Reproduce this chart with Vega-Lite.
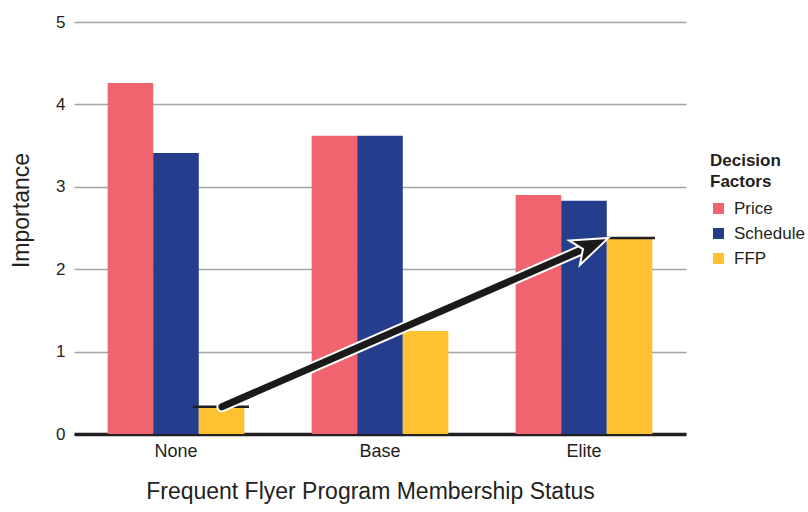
{
  "$schema": "https://vega.github.io/schema/vega-lite/v6.json",
  "width": 612,
  "height": 412,
  "autosize": "none",
  "padding": {"left": 74, "top": 22, "right": 122, "bottom": 78},
  "background": "white",
  "config": {
    "view": {"stroke": null},
    "font": "Liberation Sans"
  },
  "datasets": {
    "bars": [
      {"status": "None", "factor": "Price", "importance": 4.26},
      {"status": "None", "factor": "Schedule", "importance": 3.41},
      {"status": "None", "factor": "FFP", "importance": 0.33},
      {"status": "Base", "factor": "Price", "importance": 3.62},
      {"status": "Base", "factor": "Schedule", "importance": 3.62},
      {"status": "Base", "factor": "FFP", "importance": 1.25},
      {"status": "Elite", "factor": "Price", "importance": 2.9},
      {"status": "Elite", "factor": "Schedule", "importance": 2.83},
      {"status": "Elite", "factor": "FFP", "importance": 2.38}
    ],
    "arrow": [
      {"pos": 0.725, "importance": 0.33},
      {"pos": 2.54, "importance": 2.29}
    ],
    "head": [
      {"pos": 2.62, "importance": 2.38}
    ],
    "caps": [
      {"pos": 0.583, "pos2": 0.858, "importance": 0.33},
      {"pos": 2.608, "pos2": 2.848, "importance": 2.38}
    ]
  },
  "layer": [
    {
      "data": {"name": "bars"},
      "mark": {"type": "bar"},
      "encoding": {
        "x": {
          "field": "status",
          "type": "nominal",
          "sort": ["None", "Base", "Elite"],
          "scale": {"paddingInner": 0.33, "paddingOuter": 0.165},
          "axis": {
            "title": "Frequent Flyer Program Membership Status",
            "titleFontSize": 23,
            "titleFontWeight": "normal",
            "titleColor": "#231f20",
            "titleX": 296,
            "titleY": 64,
            "titleBaseline": "alphabetic",
            "titleAlign": "center",
            "labelAngle": 0,
            "labelFontSize": 18,
            "labelColor": "#231f20",
            "labelPadding": 8,
            "ticks": false,
            "domain": true,
            "domainColor": "#231f20",
            "domainWidth": 3.5,
            "grid": false
          }
        },
        "xOffset": {"field": "factor", "type": "nominal", "sort": ["Price", "Schedule", "FFP"]},
        "y": {
          "field": "importance",
          "type": "quantitative",
          "scale": {"domain": [0, 5], "nice": false},
          "axis": {
            "title": "Importance",
            "titleFontSize": 23,
            "titleFontWeight": "normal",
            "titleColor": "#231f20",
            "titleAngle": -90,
            "titleX": -53,
            "titleY": 188,
            "titleAlign": "center",
            "titleBaseline": "middle",
            "values": [0, 1, 2, 3, 4, 5],
            "format": "d",
            "labelFontSize": 17,
            "labelColor": "#231f20",
            "labelPadding": 9,
            "ticks": false,
            "domain": false,
            "grid": true,
            "gridColor": "#a0a4ab",
            "gridWidth": 1.5
          }
        },
        "color": {
          "field": "factor",
          "type": "nominal",
          "sort": ["Price", "Schedule", "FFP"],
          "scale": {"domain": ["Price", "Schedule", "FFP"], "range": ["#ef646e", "#243d8c", "#fdc131"]},
          "title": ["Decision", "Factors"],
          "legend": {
            "orient": "none",
            "legendX": 636,
            "legendY": 131,
            "titleFontSize": 17,
            "titleFontWeight": "bold",
            "titleLineHeight": 21,
            "titlePadding": 9,
            "titleColor": "#231f20",
            "symbolType": "square",
            "symbolSize": 121,
            "symbolStrokeWidth": 0,
            "symbolOpacity": 1,
            "labelFontSize": 17,
            "labelColor": "#231f20",
            "labelOffset": 7,
            "rowPadding": 7
          }
        }
      }
    },
    {
      "layer": [
        {
          "data": {"name": "caps"},
          "mark": {"type": "rule", "color": "#231f20", "strokeWidth": 2.5},
          "encoding": {
            "x": {"field": "pos", "type": "quantitative", "scale": {"domain": [0, 3], "nice": false, "zero": false}, "axis": null},
            "x2": {"field": "pos2"},
            "y": {"field": "importance", "type": "quantitative"}
          }
        },
        {
          "data": {"name": "arrow"},
          "mark": {"type": "line", "color": "white", "strokeWidth": 11, "strokeCap": "round"},
          "encoding": {
            "x": {"field": "pos", "type": "quantitative", "axis": null},
            "y": {"field": "importance", "type": "quantitative"}
          }
        },
        {
          "data": {"name": "arrow"},
          "mark": {"type": "line", "color": "#1a1a1a", "strokeWidth": 7, "strokeCap": "round"},
          "encoding": {
            "x": {"field": "pos", "type": "quantitative", "axis": null},
            "y": {"field": "importance", "type": "quantitative"}
          }
        },
        {
          "data": {"name": "head"},
          "mark": {
            "type": "point",
            "shape": "M0,0 L0.65,1.8 L0,1.35 L-0.65,1.8 Z",
            "filled": true,
            "fill": "#1a1a1a",
            "stroke": "white",
            "strokeWidth": 2,
            "opacity": 1,
            "size": 1700,
            "angle": 66.4
          },
          "encoding": {
            "x": {"field": "pos", "type": "quantitative", "axis": null},
            "y": {"field": "importance", "type": "quantitative"}
          }
        }
      ]
    }
  ],
  "resolve": {"scale": {"x": "independent"}, "axis": {"x": "independent"}}
}
